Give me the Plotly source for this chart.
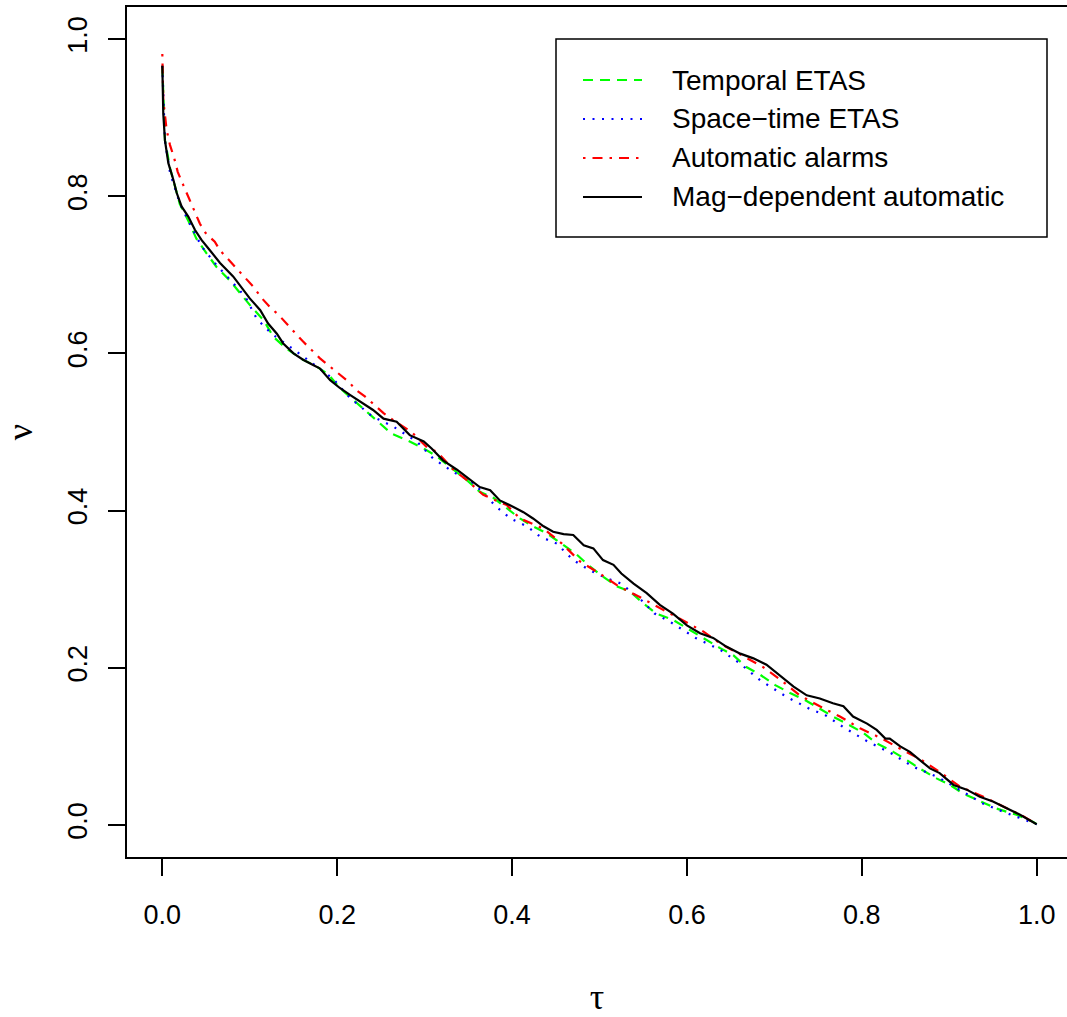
import plotly.graph_objects as go

# ---------------- data ----------------
mag_tau = [0.0, 0.0011, 0.003, 0.0069, 0.0126, 0.0165, 0.022, 0.0297, 0.0374, 0.045, 0.0546,
           0.066, 0.081, 0.093, 0.100, 0.112, 0.121, 0.131, 0.138, 0.150, 0.161, 0.173, 0.180,
           0.192, 0.203, 0.215, 0.230, 0.241, 0.253, 0.268, 0.283, 0.299, 0.308, 0.321, 0.337,
           0.352, 0.363, 0.375, 0.386, 0.401, 0.413, 0.424, 0.436, 0.447, 0.459, 0.470, 0.482,
           0.493, 0.504, 0.516, 0.525, 0.539, 0.554, 0.569, 0.584, 0.600, 0.615, 0.630, 0.645,
           0.661, 0.676, 0.691, 0.706, 0.722, 0.737, 0.752, 0.767, 0.779, 0.790, 0.806, 0.817,
           0.827, 0.832, 0.844, 0.855, 0.866, 0.878, 0.889, 0.905, 0.920, 0.935, 0.950, 0.966,
           0.981, 1.000]
mag_nu = [0.966, 0.905, 0.871, 0.842, 0.821, 0.804, 0.787, 0.774, 0.757, 0.744, 0.731,
          0.715, 0.698, 0.681, 0.670, 0.655, 0.638, 0.625, 0.613, 0.600, 0.592, 0.585, 0.581,
          0.566, 0.556, 0.547, 0.536, 0.528, 0.517, 0.513, 0.496, 0.488, 0.479, 0.464, 0.452,
          0.439, 0.430, 0.426, 0.413, 0.405, 0.398, 0.390, 0.380, 0.373, 0.370, 0.369, 0.356,
          0.352, 0.337, 0.331, 0.320, 0.307, 0.295, 0.280, 0.269, 0.254, 0.244, 0.238, 0.227,
          0.218, 0.212, 0.204, 0.191, 0.176, 0.165, 0.161, 0.155, 0.151, 0.138, 0.129, 0.121,
          0.110, 0.110, 0.100, 0.093, 0.083, 0.072, 0.066, 0.051, 0.045, 0.036, 0.030, 0.021,
          0.013, 0.001]

auto_tau = [0.0, 0.0011, 0.005, 0.0088, 0.0137, 0.0176, 0.024, 0.0297, 0.0366, 0.043, 0.0496,
            0.060, 0.066, 0.085, 0.104, 0.114, 0.123, 0.133, 0.142, 0.152, 0.161, 0.171, 0.180,
            0.192, 0.201, 0.213, 0.222, 0.232, 0.243, 0.253, 0.264, 0.285, 0.304, 0.314, 0.333,
            0.348, 0.367, 0.394, 0.409, 0.436, 0.457, 0.478, 0.500, 0.523, 0.546, 0.569, 0.592,
            0.619, 0.638, 0.665, 0.687, 0.708, 0.729, 0.752, 0.775, 0.798, 0.823, 0.844, 0.868,
            0.891, 0.912, 0.939, 0.962, 0.985, 1.000]
auto_nu = [0.981, 0.922, 0.884, 0.865, 0.848, 0.831, 0.814, 0.799, 0.782, 0.765, 0.753,
           0.742, 0.731, 0.708, 0.685, 0.670, 0.659, 0.649, 0.638, 0.626, 0.615, 0.604, 0.594,
           0.583, 0.575, 0.564, 0.553, 0.545, 0.534, 0.524, 0.515, 0.500, 0.479, 0.475, 0.452,
           0.439, 0.420, 0.407, 0.390, 0.377, 0.358, 0.335, 0.320, 0.303, 0.290, 0.276, 0.263,
           0.246, 0.231, 0.214, 0.201, 0.184, 0.165, 0.151, 0.138, 0.123, 0.110, 0.097, 0.083,
           0.066, 0.049, 0.036, 0.023, 0.011, 0.001]

temp_tau = [0.0, 0.003, 0.009, 0.020, 0.030, 0.039, 0.0508, 0.062, 0.077, 0.089, 0.102, 0.116,
            0.127, 0.142, 0.161, 0.177, 0.190, 0.203, 0.218, 0.234, 0.249, 0.262, 0.279, 0.299,
            0.314, 0.333, 0.348, 0.363, 0.379, 0.394, 0.409, 0.424, 0.440, 0.459, 0.474, 0.489,
            0.504, 0.521, 0.535, 0.550, 0.565, 0.584, 0.603, 0.619, 0.638, 0.653, 0.668, 0.684,
            0.701, 0.718, 0.735, 0.752, 0.767, 0.786, 0.802, 0.817, 0.836, 0.851, 0.866, 0.886,
            0.901, 0.916, 0.935, 0.954, 0.977, 0.996, 1.000]
temp_nu = [0.966, 0.871, 0.835, 0.790, 0.768, 0.746, 0.727, 0.710, 0.693, 0.676, 0.659, 0.642,
           0.621, 0.606, 0.592, 0.583, 0.573, 0.556, 0.541, 0.526, 0.511, 0.498, 0.490, 0.479,
           0.469, 0.452, 0.439, 0.424, 0.416, 0.403, 0.390, 0.380, 0.371, 0.356, 0.344, 0.329,
           0.316, 0.303, 0.297, 0.282, 0.269, 0.261, 0.248, 0.238, 0.225, 0.216, 0.201, 0.191,
           0.178, 0.168, 0.159, 0.148, 0.138, 0.127, 0.117, 0.104, 0.093, 0.083, 0.072, 0.059,
           0.051, 0.040, 0.030, 0.021, 0.013, 0.004, 0.001]

st_tau = [0.0, 0.003, 0.009, 0.020, 0.030, 0.045, 0.060, 0.080, 0.095, 0.108, 0.125, 0.154,
          0.175, 0.195, 0.215, 0.240, 0.264, 0.291, 0.310, 0.333, 0.356, 0.382, 0.398, 0.417,
          0.432, 0.451, 0.470, 0.489, 0.508, 0.525, 0.548, 0.563, 0.580, 0.610, 0.638, 0.660,
          0.684, 0.714, 0.740, 0.758, 0.781, 0.807, 0.834, 0.859, 0.887, 0.912, 0.939, 0.966,
          0.989, 1.000]
st_nu = [0.966, 0.870, 0.829, 0.791, 0.768, 0.736, 0.715, 0.690, 0.672, 0.644, 0.625, 0.602,
         0.585, 0.568, 0.543, 0.520, 0.507, 0.488, 0.466, 0.449, 0.435, 0.405, 0.390, 0.380,
         0.367, 0.358, 0.337, 0.324, 0.314, 0.307, 0.286, 0.269, 0.259, 0.238, 0.223, 0.206,
         0.184, 0.163, 0.148, 0.140, 0.123, 0.106, 0.091, 0.074, 0.061, 0.045, 0.027, 0.015,
         0.006, 0.001]

series_names = ["Temporal ETAS", "Space\u2212time ETAS", "Automatic alarms",
                "Mag\u2212dependent automatic"]
x_ticks = [0.0, 0.2, 0.4, 0.6, 0.8, 1.0]
y_ticks = [0.0, 0.2, 0.4, 0.6, 0.8, 1.0]
tick_text = ["0.0", "0.2", "0.4", "0.6", "0.8", "1.0"]

# ---------------- styling ----------------
W, H = 1067, 1017
ML, MR, MT, MB = 127, 0, 7, 160
PW, PH = W - ML - MR, H - MT - MB
FONT = "Liberation Sans, Arial, Helvetica, sans-serif"
SERIF = "Liberation Serif, DejaVu Serif, serif"

styles = [
    dict(color="#00FF00", dash="10px,7px"),
    dict(color="#0000FF", dash="2px,7.5px"),
    dict(color="#FF0000", dash="2.5px,7px,10px,7px"),
    dict(color="#000000", dash="solid"),
]
datasets = [(temp_tau, temp_nu), (st_tau, st_nu), (auto_tau, auto_nu), (mag_tau, mag_nu)]

fig = go.Figure()
for (xs, ys), name, st in zip(datasets, series_names, styles):
    fig.add_trace(go.Scatter(x=xs, y=ys, mode="lines", name=name,
                             line=dict(color=st["color"], dash=st["dash"], width=2.2),
                             showlegend=False))

def px2paper(px, py):
    return (px - ML) / PW, (H - MB - py) / PH

# manual legend (R style)
x0, y0 = px2paper(556, 39)
x1, y1 = px2paper(1047, 237)
fig.add_shape(type="rect", xref="paper", yref="paper", x0=x0, y0=y1, x1=x1, y1=y0,
              line=dict(color="black", width=1.5), fillcolor="white", layer="above")
row_y = [80, 119, 158, 197]
for ry, name, st in zip(row_y, series_names, styles):
    lx0, ly = px2paper(583, ry)
    lx1, _ = px2paper(642, ry)
    fig.add_shape(type="line", xref="paper", yref="paper", x0=lx0, x1=lx1, y0=ly, y1=ly,
                  line=dict(color=st["color"], dash=st["dash"], width=2), layer="above")
    tx, _ = px2paper(670, ry)
    fig.add_annotation(xref="paper", yref="paper", x=tx, y=ly, text=name, showarrow=False,
                       xanchor="left", yanchor="middle",
                       font=dict(family=FONT, size=28, color="black"))

fig.update_layout(
    width=W, height=H,
    margin=dict(l=ML, r=MR, t=MT, b=MB, pad=0),
    plot_bgcolor="white", paper_bgcolor="white",
    font=dict(family=FONT, size=27, color="black"),
)
fig.update_xaxes(
    range=[-0.0404, 1.0347], showgrid=False, zeroline=False,
    showline=True, linecolor="black", linewidth=1.5, mirror=True,
    ticks="outside", ticklen=17, tickwidth=1.5, tickcolor="black",
    tickvals=x_ticks, ticktext=tick_text, ticklabelstandoff=16,
    title=dict(text="\u03c4", font=dict(family=SERIF, size=36), standoff=56),
    automargin=False,
)
fig.update_yaxes(
    range=[-0.0407, 1.0407], showgrid=False, zeroline=False,
    showline=True, linecolor="black", linewidth=1.5, mirror=False,
    ticks="outside", ticklen=17, tickwidth=1.5, tickcolor="black",
    tickvals=y_ticks, ticktext=tick_text, tickangle=-90, ticklabelstandoff=10,
    title=dict(text="\u03bd", font=dict(family=SERIF, size=36), standoff=28),
    automargin=False,
)

fig.write_html("out.html", config={"displayModeBar": False},
               post_script="document.body.style.margin='0';")
